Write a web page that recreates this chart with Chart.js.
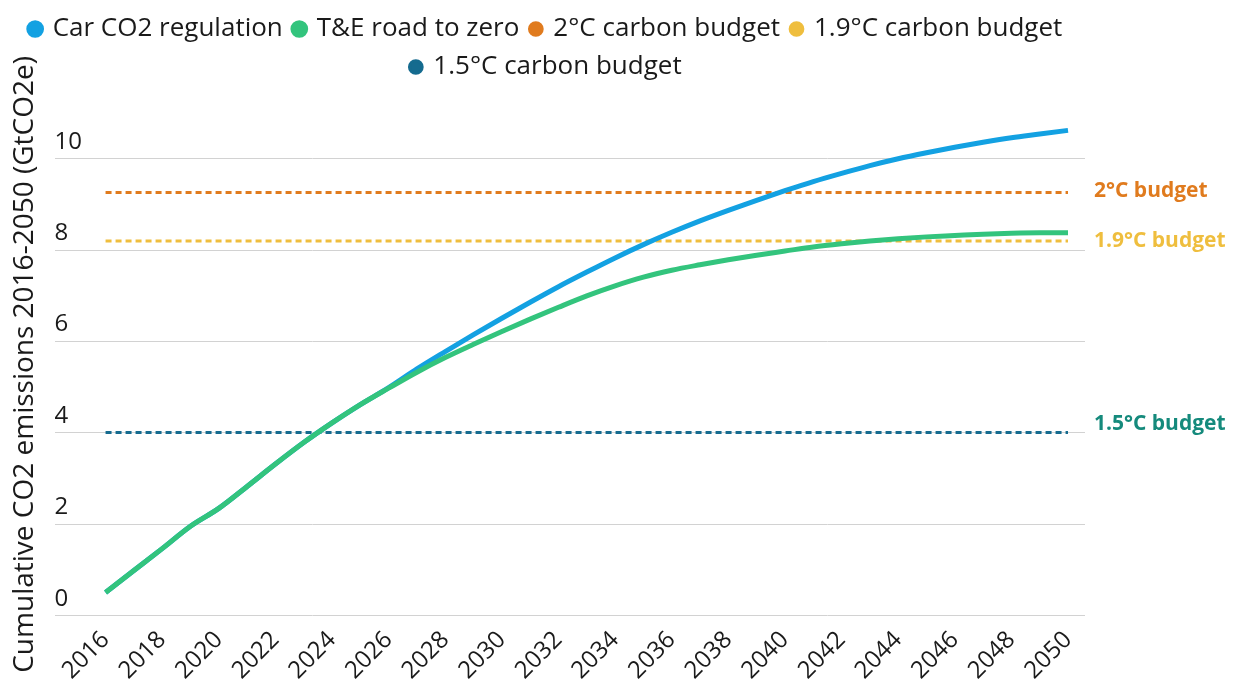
<!DOCTYPE html>
<html>
<head>
<meta charset="utf-8">
<script src="https://cdn.jsdelivr.net/npm/chart.js@4.4.1/dist/chart.umd.min.js"></script>
<style>
  html, body { margin: 0; padding: 0; background: #fff; }
  #wrap { width: 1237px; height: 691px; }
</style>
</head>
<body>
<div id="wrap"><canvas id="chart"></canvas></div>
<script>
const years = [2016, 2017, 2018, 2019, 2020, 2021, 2022, 2023, 2024, 2025, 2026, 2027,
  2028, 2029, 2030, 2031, 2032, 2033, 2034, 2035, 2036, 2037, 2038, 2039, 2040, 2041,
  2042, 2043, 2044, 2045, 2046, 2047, 2048, 2049, 2050];

const carRegulation = [0.51, 0.99, 1.47, 1.96, 2.35, 2.83, 3.32, 3.79, 4.22, 4.62, 4.99, 5.40,
  5.78, 6.15, 6.51, 6.86, 7.20, 7.52, 7.83, 8.12, 8.39, 8.64, 8.87, 9.09, 9.30, 9.50,
  9.68, 9.85, 10.00, 10.13, 10.25, 10.36, 10.46, 10.54, 10.62];

const roadToZero = [0.51, 0.99, 1.47, 1.96, 2.35, 2.83, 3.32, 3.79, 4.22, 4.62, 4.98, 5.33,
  5.65, 5.94, 6.22, 6.49, 6.75, 7.00, 7.22, 7.41, 7.56, 7.68, 7.79, 7.89, 7.98, 8.07,
  8.14, 8.20, 8.25, 8.29, 8.32, 8.35, 8.37, 8.38, 8.38];

const budget2 = 9.26;
const budget19 = 8.20;
const budget15 = 4.01;

const xTicks = [2016, 2018, 2020, 2022, 2024, 2026, 2028, 2030, 2032, 2034, 2036, 2038,
  2040, 2042, 2044, 2046, 2048, 2050];
const yTicks = [0, 2, 4, 6, 8, 10];

const seriesLabels = ["Car CO2 regulation", "T&E road to zero", "2°C carbon budget",
  "1.9°C carbon budget", "1.5°C carbon budget"];
const endLabels = [null, null, "2°C budget", "1.9°C budget", "1.5°C budget"];

const FONT = "'Open Sans', 'Noto Sans', sans-serif";

function points(vals) {
  return vals.map((v, i) => ({ x: years[i], y: v }));
}
function flat(v) {
  return [{ x: years[0], y: v }, { x: years[years.length - 1], y: v }];
}

// extra room under the legend
const legendGap = {
  id: "legendGap",
  afterInit(chart) {
    const fit = chart.legend.fit;
    chart.legend.fit = function () {
      fit.call(this);
      this.height += 23;
    };
  }
};

// labels drawn at the right end of the budget lines
const endLabelPlugin = {
  id: "endLabels",
  afterDatasetsDraw(chart, args, opts) {
    const ctx = chart.ctx;
    const yScale = chart.scales.y;
    ctx.save();
    ctx.font = "bold 21px " + FONT;
    ctx.textAlign = "left";
    ctx.textBaseline = "middle";
    chart.data.datasets.forEach((ds, i) => {
      if (!endLabels[i]) return;
      const y = yScale.getPixelForValue(ds.data[ds.data.length - 1].y);
      ctx.fillStyle = opts.colors[i];
      ctx.fillText(endLabels[i], chart.chartArea.right + 9, y + opts.dy[i]);
    });
    ctx.restore();
  }
};

const ctx = document.getElementById("chart");
new Chart(ctx, {
  type: "line",
  data: {
    datasets: [
      {
        label: seriesLabels[0],
        data: points(carRegulation),
        borderColor: "#13a1e2",
        backgroundColor: "#13a1e2",
        borderWidth: 5,
        cubicInterpolationMode: "monotone",
        order: 1
      },
      {
        label: seriesLabels[1],
        data: points(roadToZero),
        borderColor: "#33c47d",
        backgroundColor: "#33c47d",
        borderWidth: 5,
        cubicInterpolationMode: "monotone",
        order: 0
      },
      {
        label: seriesLabels[2],
        data: flat(budget2),
        borderColor: "#e07b1e",
        backgroundColor: "#e07b1e",
        borderWidth: 3,
        borderDash: [6, 4],
        order: 2
      },
      {
        label: seriesLabels[3],
        data: flat(budget19),
        borderColor: "#efbe3e",
        backgroundColor: "#efbe3e",
        borderWidth: 3,
        borderDash: [6, 4],
        order: 2
      },
      {
        label: seriesLabels[4],
        data: flat(budget15),
        borderColor: "#156b8f",
        backgroundColor: "#156b8f",
        borderWidth: 3,
        borderDash: [6, 4],
        order: 2
      }
    ]
  },
  options: {
    responsive: true,
    maintainAspectRatio: false,
    animation: false,
    elements: { point: { radius: 0 } },
    layout: { padding: { left: 8, right: 152, top: 4, bottom: 4 } },
    plugins: {
      tooltip: { enabled: false },
      legend: {
        position: "top",
        labels: {
          usePointStyle: true,
          pointStyle: "circle",
          boxWidth: 9,
          boxHeight: 9,
          padding: 12,
          color: "#1a1a1a",
          font: { family: FONT, size: 26 },
          sort: (a, b) => a.datasetIndex - b.datasetIndex
        }
      },
      endLabels: {
        colors: [null, null, "#e07b1e", "#efbe3e", "#158a7c"],
        dy: [0, 0, -2, 0, -9]
      }
    },
    scales: {
      x: {
        type: "linear",
        min: 2014.2,
        max: 2050.6,
        grid: { display: false },
        border: { display: false },
        afterBuildTicks(scale) {
          scale.ticks = xTicks.map(v => ({ value: v }));
        },
        ticks: {
          minRotation: 45,
          maxRotation: 45,
          padding: 2,
          color: "#1a1a1a",
          font: { family: FONT, size: 24 },
          callback: v => String(v)
        }
      },
      y: {
        min: 0,
        max: 11,
        afterBuildTicks(scale) {
          scale.ticks = yTicks.map(v => ({ value: v }));
        },
        grid: { color: "#d2d2d2", lineWidth: 1, drawTicks: false },
        border: { display: false },
        ticks: {
          mirror: true,
          padding: 0,
          labelOffset: -17,
          color: "#1a1a1a",
          font: { family: FONT, size: 24 }
        },
        title: {
          display: true,
          text: "Cumulative CO2 emissions 2016-2050 (GtCO2e)",
          color: "#1a1a1a",
          font: { family: FONT, size: 28 },
          padding: { top: 0, bottom: 13 }
        }
      }
    }
  },
  plugins: [legendGap, endLabelPlugin]
});
</script>
</body>
</html>
